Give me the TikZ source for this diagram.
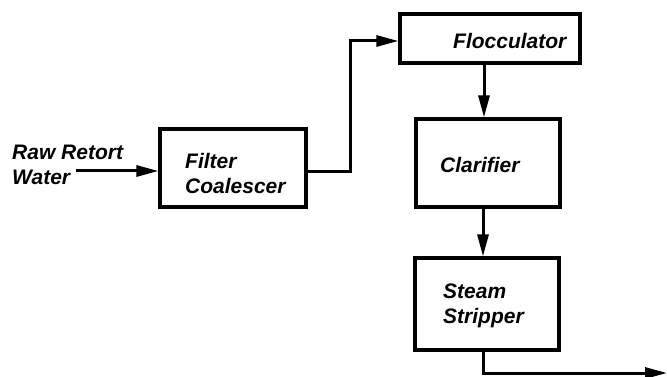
\documentclass[tikz,border=0pt]{standalone}
\usepackage{fontspec}
\setmainfont{Liberation Sans}
\usetikzlibrary{arrows.meta}
\begin{document}
\begin{tikzpicture}[x=1pt,y=-1pt,
  box/.style={draw,line width=3.2pt,rectangle,inner sep=0pt},
  lbl/.style={inner sep=0pt,align=left,font=\fontsize{21}{25}\selectfont\bfseries\itshape},
  arr/.style={line width=3pt,-{Triangle[length=22pt,width=11pt]}},
  ln/.style={line width=3pt}]
\useasboundingbox (0,0) rectangle (667,377);
% boxes
\node[box,minimum width=146pt,minimum height=78pt] (filter) at (233,168) {};
\node[box,minimum width=180pt,minimum height=49pt] (floc) at (490,38.5) {};
\node[box,minimum width=144pt,minimum height=88pt] (clar) at (488,163) {};
\node[box,minimum width=144pt,minimum height=92pt] (strip) at (487,304) {};
% labels
\node[lbl,anchor=north west] (raw) at (12,145) {Raw Retort\\Water};
\node[lbl,anchor=north west] (filtert) at (185,153) {Filter\\Coalescer};
\node[lbl,anchor=base west] (floct) at (453,49) {Flocculator};
\node[lbl,anchor=base west] (clart) at (440,173) {Clarifier};
\node[lbl,anchor=north west] (stript) at (443,284) {Steam\\Stripper};
% coordinates
\coordinate (in) at (76,171);
\coordinate (out) at (667,373);
% connectors
\draw[arr] (in) -- (in -| filter.west);
\draw[arr] (filter.east |- 0,172) -- (350,172) |- (floc.west |- 0,41);
\draw[arr] (floc.south -| 484,0) -- (clar.north -| 484,0);
\draw[arr] (clar.south -| 483,0) -- (strip.north -| 483,0);
\draw[arr] (strip.south -| 483,0) |- (out);
\end{tikzpicture}
\end{document}
